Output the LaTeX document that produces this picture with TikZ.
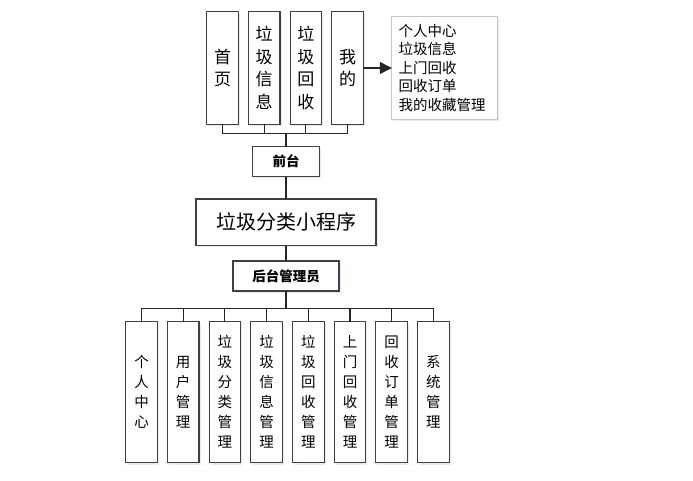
\documentclass[tikz,border=0pt]{standalone}
\usepackage{fontspec}
\newfontfamily\cjk{Noto Sans CJK SC}
\usepackage{tikz}
\usetikzlibrary{positioning,arrows.meta,shadows}
\definecolor{boxline}{RGB}{64,64,64}
\definecolor{glow}{RGB}{226,235,248}

\begin{document}
\begin{tikzpicture}[x=1pt,y=-1pt,
        box/.style={rectangle, draw=boxline, line width=1.1pt, fill=white,
                    inner sep=0pt, outer sep=0pt, align=center, font=\cjk,
                    drop shadow={fill=glow, opacity=1, shadow xshift=1.5pt, shadow yshift=-1.8pt}},
        topbox/.style={box, minimum width=31.6pt, minimum height=112.3pt,
                    font=\cjk\fontsize{17}{22.5}\selectfont},
        subbox/.style={box, minimum width=31.6pt, minimum height=141pt,
                    font=\cjk\fontsize{14.5}{20}\selectfont},
        link/.style={draw=black!85, line width=1.1pt}
      ]
        \useasboundingbox (0,0) rectangle (693,481);
        % main program
        \node[box, minimum width=180pt, minimum height=46.7pt, line width=1.4pt,
              font=\cjk\fontsize{20}{24}\selectfont] (app) at (286,222.3)
              {垃圾分类小程序};
        \node[box, minimum width=66.6pt, minimum height=30pt,
              font=\cjk\fontsize{13.5}{16}\selectfont\bfseries, above=22.3pt of app] (front) {前台};
        \node[box, minimum width=106pt, minimum height=30pt,
              font=\cjk\fontsize{13.5}{16}\selectfont\bfseries, below=15.3pt of app] (admin) {后台管理员};
        % front pages
        \node[topbox] (t1) at (222.5,68) {首\\页};
        \node[topbox, right=10.1pt of t1] (t2) {垃\\圾\\信\\息};
        \node[topbox, right=10.1pt of t2] (t3) {垃\\圾\\回\\收};
        \node[topbox, right=10.1pt of t3] (t4) {我\\的};
        \node[box, draw=gray!45, line width=0.8pt, minimum width=105.6pt, minimum height=103.3pt,
              align=left, text width=92pt, inner sep=0pt,
              font=\cjk\fontsize{14.5}{18.5}\selectfont, right=28.4pt of t4] (mine)
              {个人中心\\垃圾信息\\上门回收\\回收订单\\我的收藏管理};
        % admin modules
        \node[subbox] (b1) at (141.5,392.2) {个\\人\\中\\心};
        \node[subbox, right=10.1pt of b1] (b2) {用\\户\\管\\理};
        \node[subbox, right=10.1pt of b2] (b3) {垃\\圾\\分\\类\\管\\理};
        \node[subbox, right=10.1pt of b3] (b4) {垃\\圾\\信\\息\\管\\理};
        \node[subbox, right=10.1pt of b4] (b5) {垃\\圾\\回\\收\\管\\理};
        \node[subbox, right=10.1pt of b5] (b6) {上\\门\\回\\收\\管\\理};
        \node[subbox, right=10.1pt of b6] (b7) {回\\收\\订\\单\\管\\理};
        \node[subbox, right=10.1pt of b7] (b8) {系\\统\\管\\理};
        % connectors
        \draw[link] (front.south) -- (app.north);
        \draw[link] (app.south) -- (admin.north);
        \draw[link] (t1.south) -- ++(0,9) -| (front.north);
        \draw[link] (t2.south) -- ++(0,9) -| (front.north);
        \draw[link] (t3.south) -- ++(0,9) -| (front.north);
        \draw[link] (t4.south) -- ++(0,9) -| (front.north);
        \draw[link] (admin.south) -- ++(0,17.3) -| (b1.north);
        \draw[link] (admin.south) -- ++(0,17.3) -| (b2.north);
        \draw[link] (admin.south) -- ++(0,17.3) -| (b3.north);
        \draw[link] (admin.south) -- ++(0,17.3) -| (b4.north);
        \draw[link] (admin.south) -- ++(0,17.3) -| (b5.north);
        \draw[link] (admin.south) -- ++(0,17.3) -| (b6.north);
        \draw[link] (admin.south) -- ++(0,17.3) -| (b7.north);
        \draw[link] (admin.south) -- ++(0,17.3) -| (b8.north);
        \draw[link, -{Triangle[length=12pt,width=12pt]}] (t4.east) -- (mine.west);
      \end{tikzpicture}
\end{document}
